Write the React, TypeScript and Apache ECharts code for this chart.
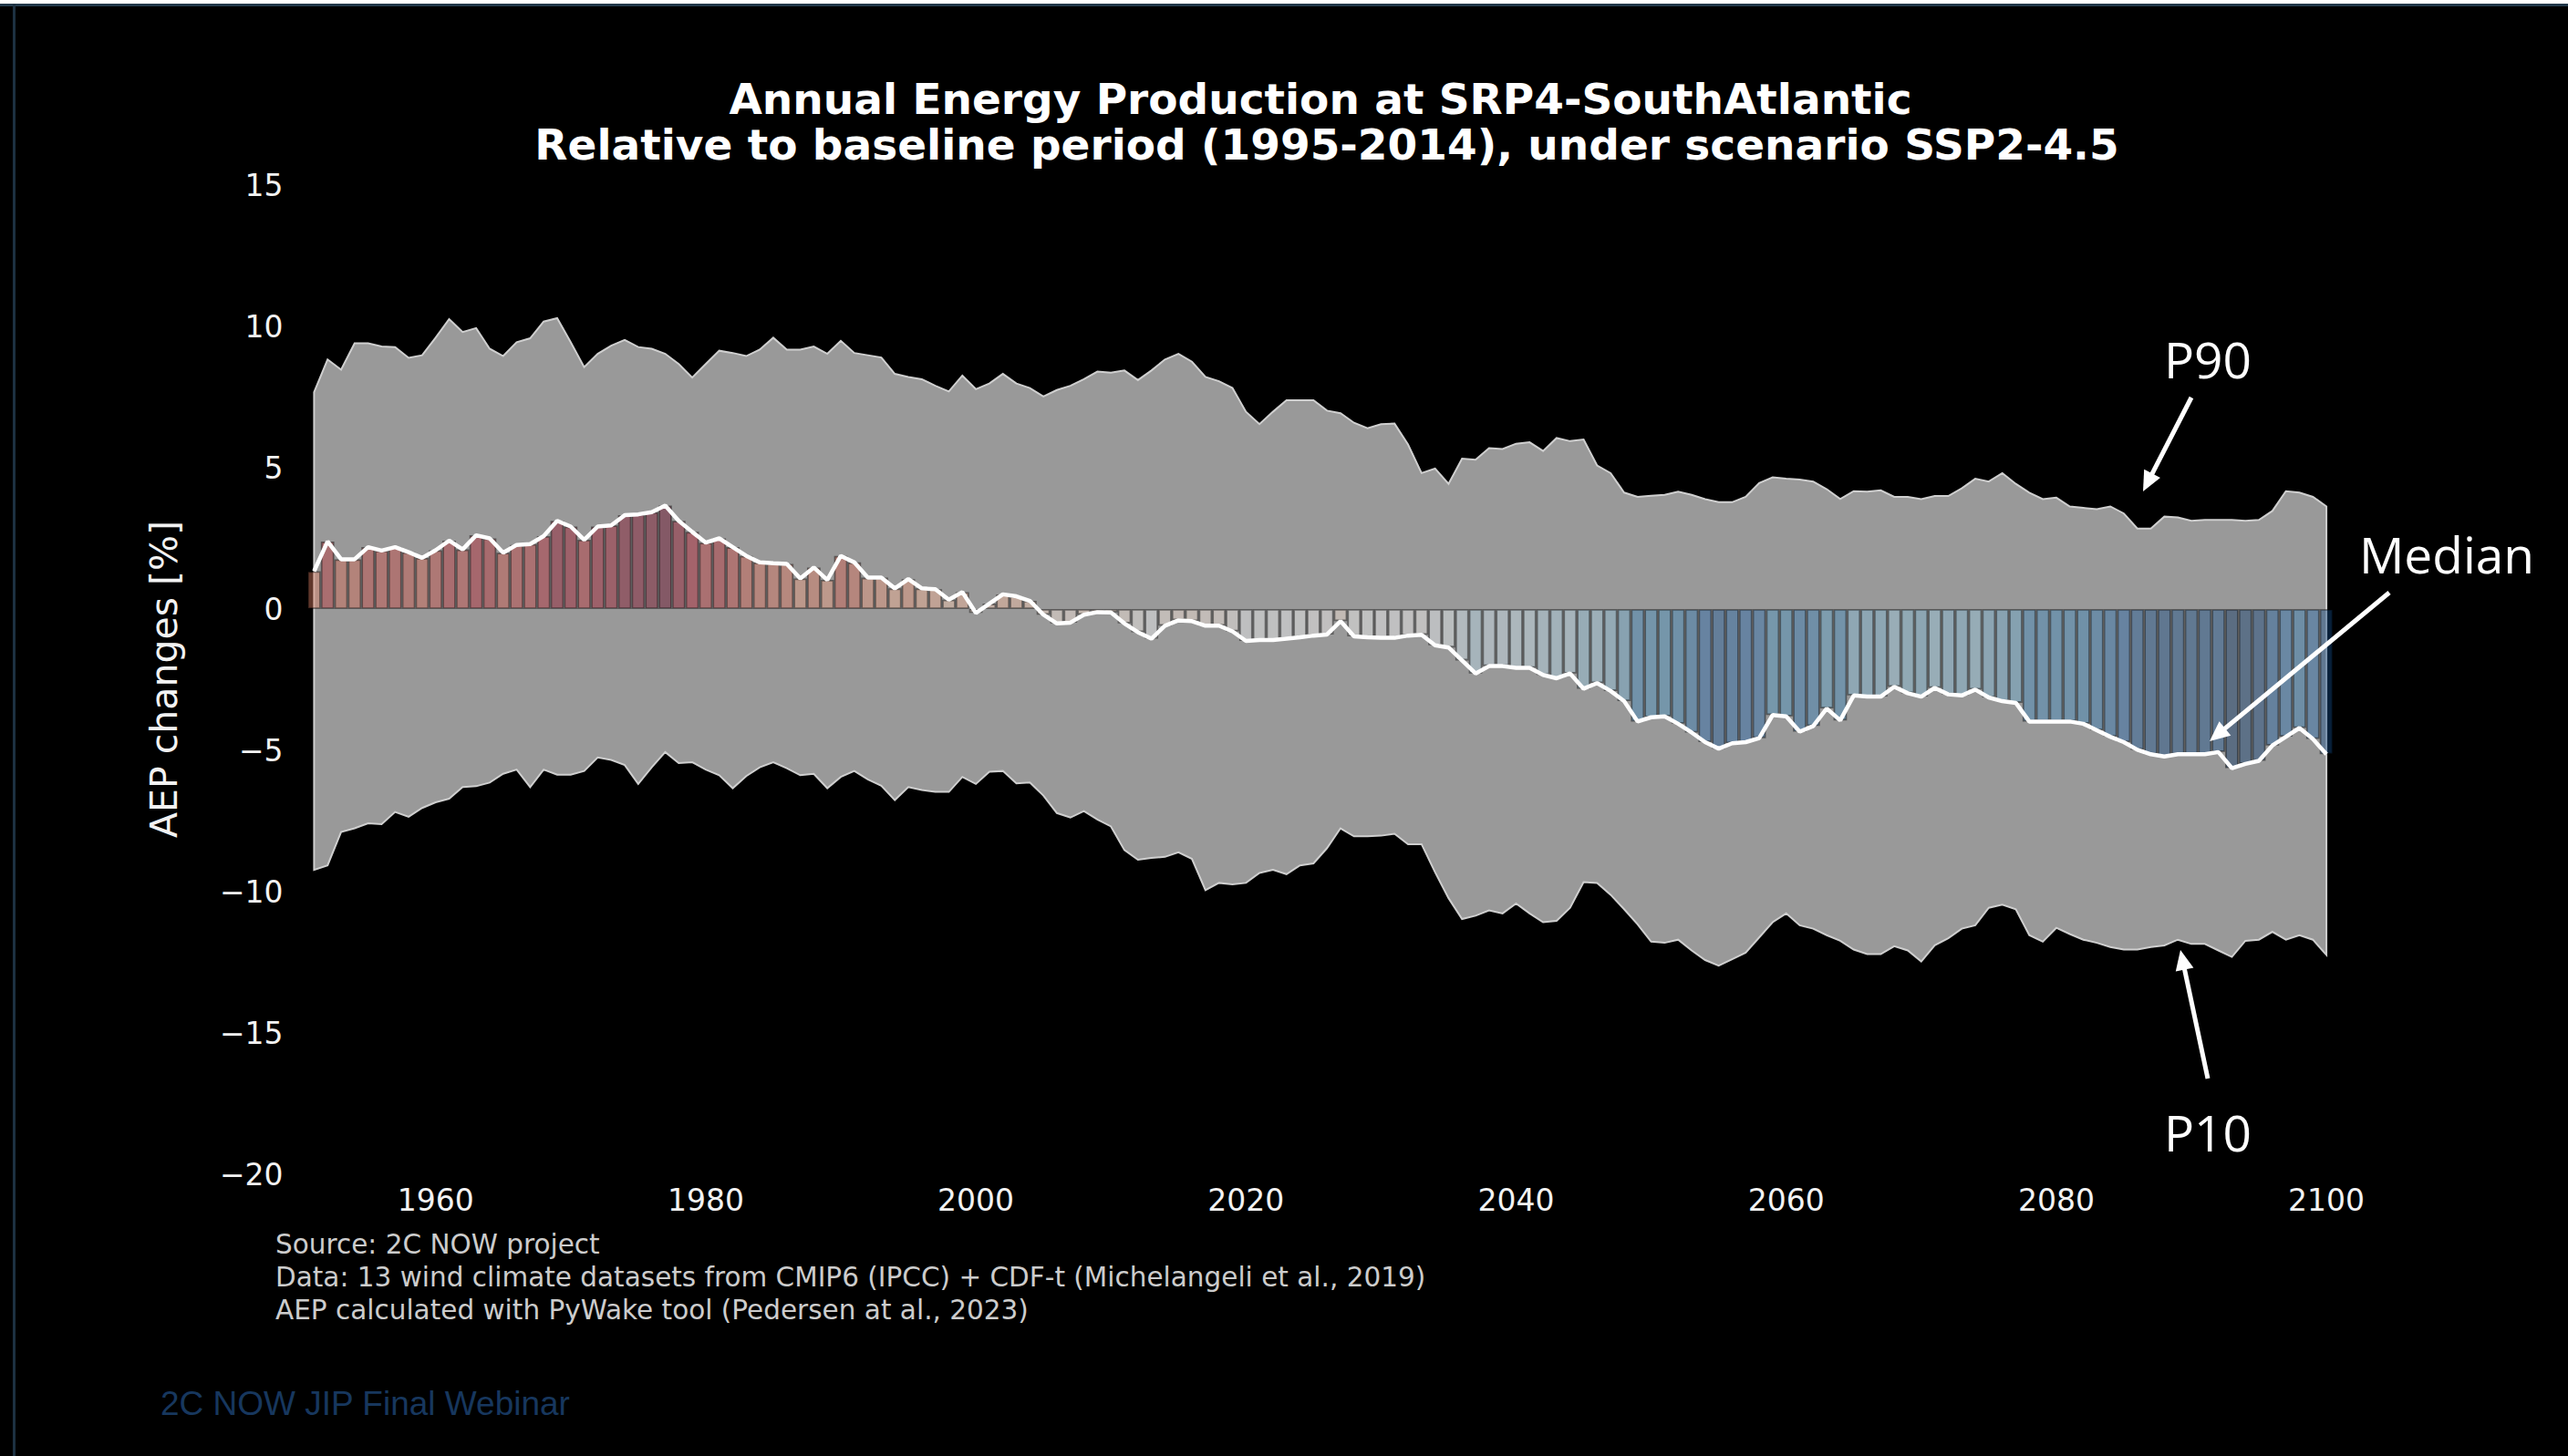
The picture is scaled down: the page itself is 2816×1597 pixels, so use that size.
import React, { useEffect, useRef } from "react";
import * as echarts from "echarts";

const FIRST_YEAR = 1951;

const p90 = [
  7.67, 8.83, 8.47, 9.4, 9.4, 9.29, 9.27, 8.89, 8.98, 9.6,
  10.26, 9.8, 9.94, 9.21, 8.95, 9.44, 9.58, 10.17, 10.29, 9.44,
  8.56, 9.03, 9.32, 9.52, 9.27, 9.21, 9.03, 8.67, 8.19, 8.67,
  9.14, 9.06, 8.95, 9.18, 9.6, 9.18, 9.18, 9.29, 9.03, 9.49,
  9.06, 8.98, 8.9, 8.32, 8.21, 8.13, 7.9, 7.7, 8.26, 7.78,
  7.98, 8.32, 7.98, 7.82, 7.52, 7.75, 7.9, 8.13, 8.4, 8.36,
  8.44, 8.1, 8.44, 8.83, 9.03, 8.75, 8.21, 8.06, 7.82, 6.98,
  6.54, 6.98, 7.39, 7.39, 7.39, 7.02, 6.93, 6.59, 6.4, 6.54,
  6.56, 5.82, 4.81, 4.97, 4.43, 5.32, 5.28, 5.69, 5.66, 5.85,
  5.9, 5.59, 6.05, 5.94, 6.0, 5.08, 4.81, 4.12, 3.97, 4.01,
  4.04, 4.15, 4.04, 3.89, 3.78, 3.78, 3.97, 4.46, 4.66, 4.61,
  4.58, 4.51, 4.24, 3.89, 4.17, 4.15, 4.2, 3.97, 3.97, 3.89,
  4.0, 4.0, 4.27, 4.61, 4.51, 4.81, 4.43, 4.12, 3.89, 3.94,
  3.63, 3.58, 3.53, 3.63, 3.38, 2.85, 2.85, 3.27, 3.24, 3.12,
  3.15, 3.15, 3.15, 3.12, 3.15, 3.47, 4.17, 4.12, 3.97, 3.63,
];

const median = [
  1.34, 2.39, 1.76, 1.76, 2.19, 2.07, 2.19, 2.01, 1.81, 2.08,
  2.42, 2.11, 2.61, 2.5, 1.99, 2.27, 2.3, 2.58, 3.12, 2.92,
  2.45, 2.92, 2.96, 3.32, 3.35, 3.43, 3.66, 3.12, 2.73, 2.35,
  2.5, 2.19, 1.88, 1.65, 1.62, 1.6, 1.08, 1.47, 1.03, 1.88,
  1.65, 1.11, 1.11, 0.73, 1.06, 0.73, 0.7, 0.33, 0.6, -0.14,
  0.19, 0.52, 0.45, 0.29, -0.2, -0.51, -0.48, -0.2, -0.11, -0.12,
  -0.51, -0.82, -1.05, -0.59, -0.4, -0.43, -0.59, -0.59, -0.79, -1.13,
  -1.1, -1.1, -1.05, -1.0, -0.94, -0.9, -0.43, -0.97, -1.0, -1.02,
  -1.02, -0.94, -0.91, -1.28, -1.36, -1.82, -2.28, -2.02, -2.02, -2.08,
  -2.08, -2.33, -2.45, -2.28, -2.82, -2.62, -2.9, -3.26, -3.98, -3.83,
  -3.8, -4.06, -4.37, -4.71, -4.94, -4.75, -4.71, -4.57, -3.75, -3.8,
  -4.34, -4.14, -3.52, -3.94, -3.06, -3.1, -3.1, -2.75, -2.98, -3.1,
  -2.79, -3.02, -3.06, -2.85, -3.13, -3.26, -3.32, -3.98, -3.98, -3.98,
  -3.98, -4.06, -4.29, -4.52, -4.71, -4.98, -5.14, -5.22, -5.14, -5.14,
  -5.14, -5.06, -5.63, -5.48, -5.37, -4.83, -4.52, -4.21, -4.6, -5.14,
];

const p10 = [
  -9.23, -9.07, -7.89, -7.76, -7.58, -7.61, -7.18, -7.35, -7.04, -6.84,
  -6.71, -6.3, -6.27, -6.14, -5.83, -5.68, -6.3, -5.68, -5.86, -5.86,
  -5.73, -5.25, -5.34, -5.52, -6.19, -5.6, -5.06, -5.45, -5.42, -5.68,
  -5.88, -6.34, -5.91, -5.6, -5.42, -5.63, -5.88, -5.83, -6.34, -5.94,
  -5.73, -6.03, -6.25, -6.76, -6.3, -6.4, -6.47, -6.47, -5.94, -6.19,
  -5.76, -5.73, -6.17, -6.14, -6.6, -7.22, -7.38, -7.15, -7.45, -7.69,
  -8.53, -8.87, -8.81, -8.77, -8.61, -8.84, -9.95, -9.69, -9.74, -9.69,
  -9.34, -9.23, -9.38, -9.07, -9.0, -8.46, -7.76, -8.04, -8.04, -8.02,
  -7.95, -8.32, -8.32, -9.31, -10.23, -10.97, -10.85, -10.66, -10.77, -10.42,
  -10.77, -11.08, -11.03, -10.57, -9.66, -9.69, -10.11, -10.62, -11.16, -11.77,
  -11.81, -11.7, -12.08, -12.42, -12.62, -12.39, -12.16, -11.62, -11.08, -10.77,
  -11.19, -11.31, -11.54, -11.74, -12.05, -12.21, -12.21, -11.93, -12.08, -12.47,
  -11.9, -11.65, -11.31, -11.19, -10.57, -10.46, -10.62, -11.54, -11.77, -11.28,
  -11.5, -11.7, -11.81, -11.96, -12.05, -12.05, -11.96, -11.9, -11.7, -11.85,
  -11.85, -12.08, -12.31, -11.74, -11.7, -11.42, -11.7, -11.54, -11.7, -12.24,
];

const years = median.map((_, i) => FIRST_YEAR + i);

const yTicks = [-20, -15, -10, -5, 0, 5, 10, 15];
const xTickLabels = [1960, 1980, 2000, 2020, 2040, 2060, 2080, 2100];

const titleLines = [
  "Annual Energy Production at SRP4-SouthAtlantic",
  "Relative to baseline period (1995-2014), under scenario SSP2-4.5",
];
const yAxisTitle = "AEP changes [%]";
const footerLines = [
  "Source: 2C NOW project",
  "Data: 13 wind climate datasets from CMIP6 (IPCC) + CDF-t (Michelangeli et al., 2019)",
  "AEP calculated with PyWake tool (Pedersen at al., 2023)",
];
const slideFooter = "2C NOW JIP Final Webinar";

// RdBu_r colormap stops
const rdbuR = [
  "#053061", "#2166ac", "#4393c3", "#92c5de", "#d1e5f0", "#f7f7f7",
  "#fddbc7", "#f4a582", "#d6604d", "#b2182b", "#67001f",
];

function arrow(x1: number, y1: number, x2: number, y2: number) {
  const dx = x2 - x1;
  const dy = y2 - y1;
  const len = Math.sqrt(dx * dx + dy * dy);
  const ux = dx / len;
  const uy = dy / len;
  const nx = -uy;
  const ny = ux;
  const L = 22;
  const W = 10;
  const bx = x2 - ux * L;
  const by = y2 - uy * L;
  return [
    {
      type: "line",
      shape: { x1, y1, x2: x2 - ux * L * 0.7, y2: y2 - uy * L * 0.7 },
      style: { stroke: "#ffffff", lineWidth: 5 },
      z: 100,
    },
    {
      type: "polygon",
      shape: {
        points: [
          [x2, y2],
          [bx + nx * W, by + ny * W],
          [bx - nx * W, by - ny * W],
        ],
      },
      style: { fill: "#ffffff" },
      z: 100,
    },
  ];
}

export default function App() {
  const ref = useRef<HTMLDivElement>(null);

  useEffect(() => {
    document.body.style.margin = "0";
    document.body.style.background = "#000";
    const chart = echarts.init(ref.current!, null, { renderer: "svg" });

    const bandData = years.map((y, i) => [y, p10[i], p90[i]]);
    const medianData = years.map((y, i) => [y, median[i]]);

    const option: any = {
      animation: false,
      backgroundColor: "#000000",
      grid: { left: 329.6, right: 242.7, top: 203, bottom: 309 },
      xAxis: {
        type: "value",
        min: 1950,
        max: 2101.5,
        interval: 10,
        axisLine: { show: false },
        axisTick: { show: false },
        splitLine: { show: false },
        axisLabel: {
          color: "#f2f2f2",
          fontFamily: "DejaVu Sans",
          fontSize: 33,
          margin: 12,
          formatter: (v: number) => (xTickLabels.indexOf(v) >= 0 ? String(v) : ""),
        },
      },
      yAxis: {
        type: "value",
        min: yTicks[0],
        max: yTicks[yTicks.length - 1],
        interval: 5,
        axisLine: { show: false },
        axisTick: { show: false },
        splitLine: { show: false },
        axisLabel: {
          color: "#f2f2f2",
          fontFamily: "DejaVu Sans",
          fontSize: 33,
          margin: 19,
          formatter: (v: number) => (v < 0 ? "\u2212" + Math.abs(v) : String(v)),
        },
      },
      visualMap: {
        type: "continuous",
        show: false,
        seriesIndex: 1,
        dimension: 1,
        min: -5.63,
        max: 3.66,
        inRange: { color: rdbuR },
      },
      series: [
        {
          type: "custom",
          silent: true,
          z: 1,
          data: bandData,
          encode: { x: 0, y: [1, 2] },
          renderItem: (params: any, api: any) => {
            if (params.dataIndex !== 0) return { type: "group", children: [] };
            const pts: number[][] = [];
            for (let i = 0; i < years.length; i++) pts.push(api.coord([years[i], p90[i]]));
            for (let i = years.length - 1; i >= 0; i--) pts.push(api.coord([years[i], p10[i]]));
            return {
              type: "polygon",
              shape: { points: pts },
              style: { fill: "#999999", stroke: "#cfcfcf", lineWidth: 2 },
            };
          },
        },
        {
          type: "bar",
          z: 2,
          silent: true,
          data: medianData,
          barWidth: 14.8,
          itemStyle: { borderColor: "#000000", borderWidth: 1.8, opacity: 0.42 },
        },
        {
          type: "line",
          z: 3,
          silent: true,
          data: medianData,
          showSymbol: false,
          symbol: "none",
          lineStyle: { color: "#ffffff", width: 4.5 },
        },
      ],
      graphic: [
        { type: "rect", shape: { x: 0, y: 0, width: 2816, height: 4 }, style: { fill: "#ffffff" } },
        { type: "rect", shape: { x: 0, y: 4, width: 2816, height: 3 }, style: { fill: "#22384a" } },
        { type: "rect", shape: { x: 14, y: 4, width: 3, height: 1593 }, style: { fill: "#1d3142" } },
        {
          type: "text",
          x: 1448,
          y: 108,
          style: {
            text: titleLines[0],
            fill: "#ffffff",
            font: "bold 47px 'DejaVu Sans'",
            textAlign: "center",
            textVerticalAlign: "middle",
          },
        },
        {
          type: "text",
          x: 1455,
          y: 158,
          style: {
            text: titleLines[1],
            fill: "#ffffff",
            font: "bold 47px 'DejaVu Sans'",
            textAlign: "center",
            textVerticalAlign: "middle",
          },
        },
        {
          type: "text",
          x: 180,
          y: 745,
          rotation: Math.PI / 2,
          style: {
            text: yAxisTitle,
            fill: "#f2f2f2",
            font: "41px 'DejaVu Sans'",
            textAlign: "center",
            textVerticalAlign: "middle",
          },
        },
        ...footerLines.map((t, i) => ({
          type: "text",
          x: 302,
          y: 1365 + i * 36,
          style: {
            text: t,
            fill: "#cccccc",
            font: "29.5px 'DejaVu Sans'",
            textAlign: "left",
            textVerticalAlign: "middle",
          },
        })),
        {
          type: "text",
          x: 176,
          y: 1539,
          style: {
            text: slideFooter,
            fill: "#17375e",
            font: "37px 'Liberation Sans'",
            textAlign: "left",
            textVerticalAlign: "middle",
          },
        },
        {
          type: "text",
          x: 2421,
          y: 393,
          style: { text: "P90", fill: "#ffffff", font: "55px 'Open Sans'", textAlign: "center", textVerticalAlign: "middle" },
          z: 100,
        },
        {
          type: "text",
          x: 2683,
          y: 607,
          style: { text: "Median", fill: "#ffffff", font: "55px 'Open Sans'", textAlign: "center", textVerticalAlign: "middle" },
          z: 100,
        },
        {
          type: "text",
          x: 2421,
          y: 1241,
          style: { text: "P10", fill: "#ffffff", font: "55px 'Open Sans'", textAlign: "center", textVerticalAlign: "middle" },
          z: 100,
        },
        ...arrow(2403, 436, 2350, 539),
        ...arrow(2620, 650, 2423, 813),
        ...arrow(2421, 1183, 2391, 1042),
      ],
    };

    chart.setOption(option);
    return () => chart.dispose();
  }, []);

  return (
    <div
      ref={ref}
      style={{ position: "fixed", left: 0, top: 0, width: 2816, height: 1597, background: "#000" }}
    />
  );
}
